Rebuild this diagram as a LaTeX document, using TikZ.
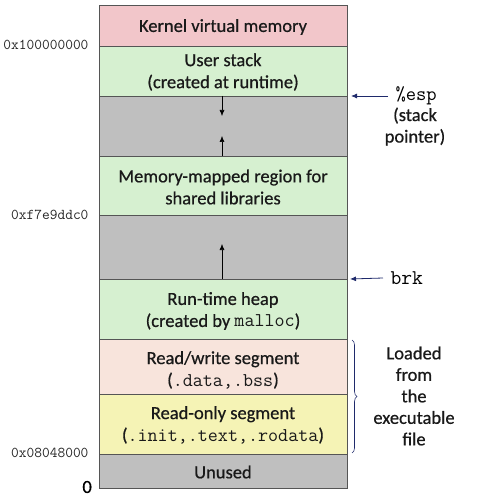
\documentclass[tikz,border=0pt]{standalone}
\usepackage{fontspec}
\setmainfont{Carlito}[FakeBold=0.6]
\usetikzlibrary{arrows.meta,decorations.pathreplacing}
\definecolor{kern}{HTML}{F2C6CA}
\definecolor{grn}{HTML}{D6F0D0}
\definecolor{gry}{HTML}{BFBFBF}
\definecolor{rw}{HTML}{F8E4DC}
\definecolor{ro}{HTML}{F5F3B5}
\definecolor{edge}{HTML}{555555}
\definecolor{navy}{HTML}{1F2A6B}
\newcommand{\mtt}[1]{{\fontsize{19.5}{22}\ttfamily #1}}
\tikzset{
  seg/.style={draw=edge, line width=0.8pt},
  lbl/.style={font=\fontsize{18.5}{22}\selectfont, align=center, text=black!90},
  addr/.style={font=\fontsize{15}{16}\ttfamily, text=black!85, anchor=east},
  side/.style={font=\fontsize{18.5}{21.5}\selectfont, align=center, text=black!90},
  inarrow/.style={-{Latex[length=6pt,width=5pt]}, line width=0.6pt, black},
  ptr/.style={-{Latex[length=6pt,width=5pt]}, line width=0.8pt, navy}
}
\begin{document}
\begin{tikzpicture}[x=1pt,y=-1pt]
\useasboundingbox (0,0) rectangle (477,497);
% segments
\fill[kern] (99,5) rectangle (347,46);
\fill[grn] (99,46) rectangle (347,96);
\fill[gry] (99,96) rectangle (347,156);
\fill[grn] (99,156) rectangle (347,215);
\fill[gry] (99,215) rectangle (347,279);
\fill[grn] (99,279) rectangle (347,339);
\fill[rw] (99,339) rectangle (347,394);
\fill[ro] (99,394) rectangle (347,454);
\fill[gry] (99,454) rectangle (347,488);
\draw[seg] (99,5) rectangle (347,488);
\foreach \yy in {46,96,156,215,279,339,394,454}
  \draw[seg] (99,\yy) -- (347,\yy);
% texts in segments
\node[lbl] (kernel) at (223,27) {Kernel virtual memory};
\node[lbl] (ustack) at (223,72) {User stack\\(created at runtime)};
\node[lbl] (mmap) at (223,187) {Memory-mapped region for\\shared libraries};
\node[lbl] (heap) at (223,311) {Run-time heap\\(created by \mtt{malloc})};
\node[lbl] (rwseg) at (223,370) {Read/write segment\\(\mtt{.data,.bss})};
\node[lbl] (roseg) at (223,425) {Read-only segment\\(\mtt{.init,.text,.rodata})};
\node[lbl] (unused) at (223,472) {Unused};
% internal arrows
\coordinate (s1) at (222,96);
\coordinate (s2) at (222,116);
\coordinate (m1) at (222,156);
\coordinate (m2) at (222,136);
\coordinate (h1) at (222,279);
\coordinate (h2) at (222,244);
\draw[inarrow] (s1) -- (s2);
\draw[inarrow] (m1) -- (m2);
\draw[inarrow] (h1) -- (h2);
% addresses
\node[addr] (a1) at (92,45) {0x100000000};
\node[addr] (a2) at (92,215) {0xf7e9ddc0};
\node[addr] (a3) at (92,453) {0x08048000};
\node[font=\fontsize{18.5}{20}\selectfont, anchor=east, inner sep=0pt] (zero) at (92,487) {0};
% pointers
\node[font=\fontsize{20}{22}\ttfamily, anchor=west] (esp) at (392,96) {\%esp};
\node[side, anchor=north] (espd) at (415,104) {(stack\\pointer)};
\coordinate (espt) at (351,96);
\draw[ptr] ([xshift=-4pt]esp.west) -- (espt);
\node[font=\fontsize{21}{22}\ttfamily, anchor=west] (brk) at (387,278) {brk};
\coordinate (brkt) at (350,279);
\draw[ptr] ([xshift=-4pt]brk.west) -- (brkt);
% brace
\coordinate (b1) at (352,340);
\coordinate (b2) at (352,453);
\draw[navy, line width=0.6pt, decorate, decoration={brace, amplitude=5pt}] (b1) -- (b2);
\node[side] (loaded) at (414,396) {Loaded\\from\\the\\executable\\file};
\end{tikzpicture}
\end{document}
